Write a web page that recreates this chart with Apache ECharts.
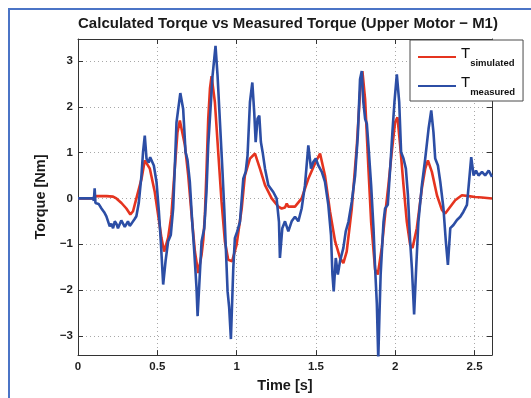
<!DOCTYPE html>
<html>
<head>
<meta charset="utf-8">
<script src="https://cdn.jsdelivr.net/npm/echarts@6/dist/echarts.min.js"></script>
<style>
html,body{margin:0;padding:0;background:#fff;}
#chart{width:531px;height:398px;}
</style>
</head>
<body>
<div id="chart"></div>
<script>
// ---- data ----
var titleText = 'Calculated Torque vs Measured Torque (Upper Motor \u2212 M1)';
var xName = 'Time [s]';
var yName = 'Torque [Nm]';
var xTicks = [0, 0.5, 1, 1.5, 2, 2.5];
var yTicks = [-3, -2, -1, 0, 1, 2, 3];
var seriesNames = ['T_simulated', 'T_measured'];

var tSim = [0,0.09,0.116,0.18,0.221,0.242,0.274,0.305,0.33,0.347,0.368,0.4,0.421,0.453,0.484,0.505,0.526,0.543,0.568,0.589,0.61,0.627,0.642,0.674,0.695,0.716,0.737,0.758,0.779,0.79,0.8,0.81,0.821,0.832,0.842,0.863,0.884,0.905,0.926,0.947,0.972,1.0,1.032,1.052,1.084,1.116,1.147,1.179,1.221,1.263,1.284,1.305,1.316,1.326,1.368,1.41,1.452,1.499,1.526,1.557,1.589,1.621,1.652,1.673,1.694,1.726,1.758,1.778,1.793,1.81,1.831,1.848,1.873,1.89,1.915,1.936,1.957,1.978,1.999,2.014,2.031,2.052,2.073,2.094,2.109,2.136,2.168,2.189,2.206,2.231,2.263,2.294,2.315,2.347,2.378,2.42,2.462,2.504,2.547,2.61];
var sim = [0,0,0.05,0.05,0.04,0.0,-0.1,-0.22,-0.35,-0.28,0.0,0.42,0.83,0.65,0.14,-0.36,-0.86,-1.16,-0.86,-0.36,0.65,1.44,1.7,1.16,0.5,-0.36,-1.16,-1.63,-1.23,-0.9,-0.36,0.6,1.74,2.4,2.67,2.1,1.01,-0.07,-0.94,-1.34,-1.37,-1.01,-0.22,0.5,0.87,0.98,0.65,0.29,0.0,-0.18,-0.22,-0.2,-0.11,-0.18,-0.18,0.0,0.43,0.8,0.98,0.5,-0.29,-0.94,-1.3,-1.41,-1.16,-0.22,1.16,2.31,2.78,2.17,0.65,-0.51,-1.55,-1.66,-1.08,-0.36,0.29,1.01,1.66,1.77,1.16,0.29,-0.51,-1.01,-1.08,-0.65,0.22,0.65,0.83,0.58,0.07,-0.25,-0.33,-0.18,-0.04,0.07,0.05,0.03,0.02,0.0];

var tMeas = [0,0.095,0.1,0.105,0.11,0.13,0.148,0.165,0.179,0.2,0.21,0.221,0.232,0.242,0.252,0.263,0.273,0.284,0.295,0.305,0.315,0.326,0.337,0.347,0.357,0.368,0.383,0.4,0.41,0.421,0.432,0.446,0.455,0.463,0.478,0.495,0.51,0.522,0.537,0.552,0.568,0.585,0.6,0.61,0.621,0.63,0.645,0.663,0.678,0.69,0.705,0.72,0.733,0.747,0.754,0.768,0.779,0.796,0.81,0.821,0.838,0.848,0.867,0.88,0.895,0.91,0.922,0.932,0.943,0.953,0.964,0.979,0.989,1.004,1.021,1.042,1.057,1.069,1.084,1.099,1.111,1.12,1.132,1.143,1.153,1.164,1.179,1.2,1.231,1.252,1.267,1.273,1.288,1.305,1.326,1.347,1.368,1.389,1.41,1.431,1.452,1.469,1.484,1.499,1.515,1.537,1.557,1.578,1.595,1.604,1.612,1.625,1.638,1.652,1.673,1.688,1.705,1.726,1.747,1.764,1.778,1.789,1.799,1.81,1.821,1.831,1.848,1.863,1.873,1.884,1.893,1.9,1.908,1.926,1.936,1.953,1.968,1.982,1.995,2.01,2.025,2.037,2.052,2.067,2.08,2.094,2.105,2.119,2.132,2.146,2.168,2.189,2.21,2.227,2.241,2.252,2.269,2.284,2.304,2.319,2.332,2.347,2.367,2.389,2.41,2.43,2.452,2.467,2.479,2.494,2.509,2.525,2.547,2.567,2.589,2.61];
var meas = [0,0,-0.05,0.22,-0.1,-0.12,-0.22,-0.3,-0.39,-0.61,-0.55,-0.65,-0.5,-0.55,-0.65,-0.65,-0.48,-0.5,-0.62,-0.65,-0.5,-0.6,-0.55,-0.57,-0.45,-0.39,-0.1,0.5,1.01,1.37,0.87,0.78,0.9,0.87,0.72,0.36,-0.29,-0.94,-1.88,-1.37,-0.94,-0.8,-0.22,0.65,1.66,1.9,2.3,1.95,1.01,0.85,0.36,-0.51,-1.16,-1.95,-2.57,-1.66,-0.94,-0.65,0.14,1.16,2.1,2.67,3.33,2.67,1.66,0.65,-0.22,-1.08,-2.03,-2.38,-3.07,-1.52,-0.87,-0.72,-0.51,0.43,0.58,0.94,2.1,2.53,1.88,1.23,1.74,1.81,1.23,1.01,0.65,0.29,0.14,0.0,-0.51,-1.3,-0.65,-0.5,-0.72,-0.5,-0.4,-0.5,-0.22,0.29,1.16,0.65,0.8,0.87,0.72,0.58,0.36,-0.14,-0.8,-1.66,-2.03,-1.3,-1.66,-1.37,-1.08,-0.72,-0.51,-0.07,0.5,1.37,2.6,2.78,2.1,1.74,1.63,1.16,0.29,-0.65,-1.52,-2.3,-3.5,-2.6,-1.66,-0.51,-0.22,-0.14,0.65,1.44,2.1,2.71,2.1,1.01,0.87,0.65,0.07,-0.94,-1.52,-2.53,-1.52,-0.51,0.29,0.87,1.52,1.92,1.44,0.87,0.72,0.36,-0.22,-0.94,-1.45,-0.65,-0.58,-0.47,-0.4,-0.29,-0.14,0.43,0.9,0.5,0.61,0.5,0.58,0.5,0.61,0.47];

function pairs(t, v){ var out=[]; for(var i=0;i<t.length;i++){ out.push([t[i], v[i]]); } return out; }

var chart = echarts.init(document.getElementById('chart'), null, {renderer:'canvas'});
var FONT = '"Liberation Sans", Arial, Helvetica, sans-serif';
var xMin = 0, xMax = 2.61, yMin = -3.42, yMax = 3.48;

var option = {
  backgroundColor: '#ffffff',
  animation: false,
  textStyle: {fontFamily: FONT},
  title: {
    text: titleText,
    left: 283, top: 11, textAlign: 'center',
    textStyle: {fontFamily: FONT, fontSize: 15, fontWeight: 'bold', color: '#1a1a1a'}
  },
  graphic: [{
    type: 'rect', silent: true, z: -1,
    shape: {x: 9, y: 9, width: 600, height: 600},
    style: {fill: 'none', stroke: '#4b74c6', lineWidth: 2}
  }],
  legend: {
    orient: 'vertical',
    left: 410, top: 40,
    padding: [6, 8, 4, 8],
    itemGap: 7,
    itemWidth: 38, itemHeight: 14,
    backgroundColor: '#ffffff',
    borderColor: '#4a4a4a', borderWidth: 1,
    data: [
      {name: seriesNames[0], icon: 'path://M0,6 L38,6 L38,8 L0,8 Z'},
      {name: seriesNames[1], icon: 'path://M0,6 L38,6 L38,8 L0,8 Z'}
    ],
    formatter: function(name){
      var sub = name.split('_')[1];
      return '{t|T}{s|' + sub + '}';
    },
    textStyle: {
      fontFamily: FONT,
      rich: {
        t: {fontSize: 15, fontFamily: FONT, color: '#111', lineHeight: 22, verticalAlign: 'top', padding:[0,0,0,0]},
        s: {fontSize: 9.5, fontFamily: FONT, fontWeight: 'bold', color: '#111', verticalAlign: 'bottom', lineHeight: 22, padding:[9,0,0,0]}
      }
    }
  },
  grid: {left: 78, right: 39, top: 39, bottom: 41, show: false},
  xAxis: [{
    type: 'value', min: xMin, max: xMax, position: 'bottom',
    name: xName, nameLocation: 'middle', nameGap: 20,
    nameTextStyle: {fontFamily: FONT, fontSize: 14.5, fontWeight: 'bold', color: '#1a1a1a'},
    axisLine: {show: true, onZero: false, lineStyle: {color: '#333', width: 1}},
    axisTick: {show: true, inside: true, length: 5, customValues: xTicks, lineStyle: {color: '#333'}},
    axisLabel: {customValues: xTicks, margin: 6, fontFamily: FONT, fontSize: 11.5, fontWeight: 'bold', color: '#1f1f1f',
      formatter: function(v){ return String(v); }},
    splitLine: {show: true, lineStyle: {color: '#a8a8a8', type: [1, 3], width: 1}}
  }, {
    type: 'value', min: xMin, max: xMax, position: 'top',
    axisLine: {show: true, onZero: false, lineStyle: {color: '#333', width: 1}},
    axisTick: {show: true, inside: true, length: 5, customValues: xTicks, lineStyle: {color: '#333'}},
    axisLabel: {show: false},
    splitLine: {show: false}
  }],
  yAxis: [{
    type: 'value', min: yMin, max: yMax, position: 'left',
    name: yName, nameLocation: 'middle', nameGap: 24, nameRotate: 90,
    nameTextStyle: {fontFamily: FONT, fontSize: 14.5, fontWeight: 'bold', color: '#1a1a1a'},
    axisLine: {show: true, onZero: false, lineStyle: {color: '#333', width: 1}},
    axisTick: {show: true, inside: true, length: 5, customValues: yTicks, lineStyle: {color: '#333'}},
    axisLabel: {customValues: yTicks, margin: 5, fontFamily: FONT, fontSize: 11.5, fontWeight: 'bold', color: '#1f1f1f',
      formatter: function(v){ return v < 0 ? '\u2212' + Math.abs(v) : String(v); }},
    splitLine: {show: true, lineStyle: {color: '#a8a8a8', type: [1, 3], width: 1}}
  }, {
    type: 'value', min: yMin, max: yMax, position: 'right',
    axisLine: {show: true, onZero: false, lineStyle: {color: '#333', width: 1}},
    axisTick: {show: true, inside: true, length: 5, customValues: yTicks, lineStyle: {color: '#333'}},
    axisLabel: {show: false},
    splitLine: {show: false}
  }],
  series: [{
    name: seriesNames[0], type: 'line', symbol: 'none', showSymbol: false,
    data: pairs(tSim, sim), z: 3,
    lineStyle: {color: '#e5341f', width: 2.6},
    itemStyle: {color: '#e5341f'}
  }, {
    name: seriesNames[1], type: 'line', symbol: 'none', showSymbol: false,
    data: pairs(tMeas, meas), z: 4,
    lineStyle: {color: '#2c4ea5', width: 2.6},
    itemStyle: {color: '#2c4ea5'}
  }]
};
chart.setOption(option);
</script>
</body>
</html>
